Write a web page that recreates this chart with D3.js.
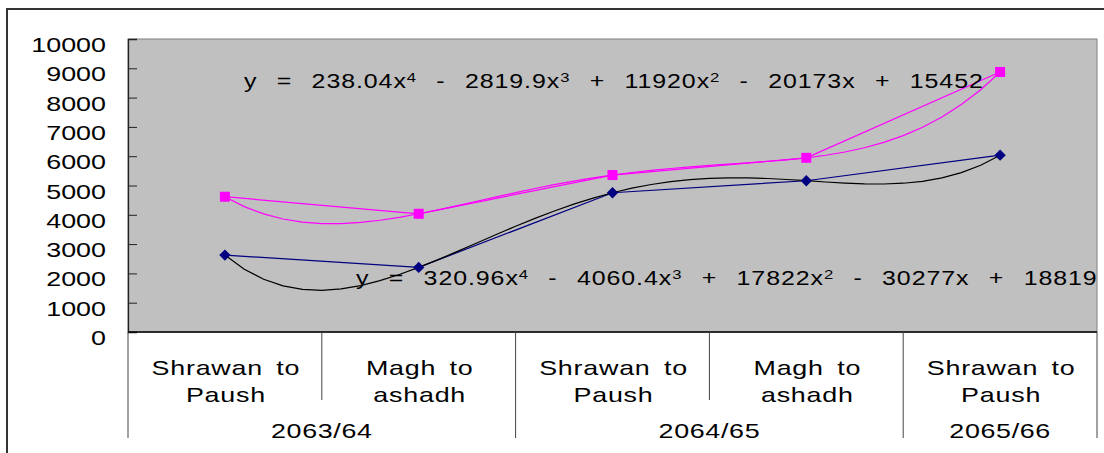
<!DOCTYPE html>
<html>
<head>
<meta charset="utf-8">
<script src="https://cdn.jsdelivr.net/npm/d3@7"></script>
<style>
  html, body { margin: 0; padding: 0; background: #fff; }
  svg { display: block; font-family: "Liberation Sans", Arial, sans-serif; }
</style>
</head>
<body>
<svg id="chart" width="1104" height="453"></svg>
<script>
// Half-year periods (two text lines each) and the fiscal years they belong to
const periods = ["Shrawan to|Paush", "Magh to|ashadh", "Shrawan to|Paush", "Magh to|ashadh", "Shrawan to|Paush"];
const fiscalYears = ["2063/64", "2064/65", "2065/66"];
const periodsPerYear = [2, 2, 1];

// Two series
const seriesPink = [4617, 4035, 5357, 5945, 8875];
const seriesNavy = [2625, 2205, 4753, 5163, 6034];

// 4th-order polynomial trendlines (coefficients of x^4 .. x^0)
const trendPink = [238.04, -2819.9, 11920, -20173, 15452];
const trendNavy = [320.96, -4060.4, 17822, -30277, 18819];

// Value axis ticks
const yTicks = [0, 1000, 2000, 3000, 4000, 5000, 6000, 7000, 8000, 9000, 10000];

const svg = d3.select("#chart");
const plot = { left: 128, top: 39, right: 1097, bottom: 332 };
const SX = 1.28; // horizontal stretch of the label font

const x = d3.scaleBand().domain(d3.range(periods.length)).range([plot.left, plot.right]).padding(0);
const bw = x.bandwidth();
const cx = i => x(i) + bw / 2;
// numeric x (1..n) used by the trendline equations
const xn = d3.scaleLinear().domain([1, periods.length]).range([cx(0), cx(periods.length - 1)]);
const y = d3.scaleLinear().domain([0, 10000]).range([plot.bottom, plot.top]);

// stretched text helper
function label(g, tx, ty, anchor, size) {
  return g.append("text")
    .attr("transform", `translate(${tx},${ty}) scale(${SX},1)`)
    .attr("text-anchor", anchor)
    .attr("font-size", size)
    .attr("fill", "#000");
}

// chart area frame
svg.append("rect")
  .attr("x", 7).attr("y", 9).attr("width", 1120).attr("height", 470)
  .attr("fill", "#fff").attr("stroke", "#333").attr("stroke-width", 2);

// plot area
svg.append("rect")
  .attr("x", plot.left).attr("y", plot.top)
  .attr("width", plot.right - plot.left).attr("height", plot.bottom - plot.top)
  .attr("fill", "#c0c0c0").attr("stroke", "#808080").attr("stroke-width", 1);

// value axis (ticks pointing into the plot)
const yAxis = d3.axisLeft(y).tickValues(yTicks).tickSize(-9).tickFormat("");
const gy = svg.append("g").attr("transform", `translate(${plot.left},0)`).call(yAxis);
gy.select(".domain").attr("stroke", "#222").attr("stroke-width", 1.3);
gy.selectAll(".tick line").attr("stroke", "#222");
yTicks.forEach(v => {
  label(svg, 106, y(v) + 13, "end", 21).text(d3.format("d")(v));
});

// category axis line
svg.append("line")
  .attr("x1", plot.left).attr("x2", plot.right)
  .attr("y1", y(0)).attr("y2", y(0))
  .attr("stroke", "#000").attr("stroke-width", 1.6);

// separators between periods and between fiscal years
const yearBounds = [0];
periodsPerYear.forEach(n => yearBounds.push(yearBounds[yearBounds.length - 1] + n));
const gx = svg.append("g").attr("stroke", "#444").attr("stroke-width", 1);
d3.range(periods.length + 1).forEach(i => {
  const px = i < periods.length ? x(i) : plot.right;
  const isYear = yearBounds.includes(i);
  gx.append("line")
    .attr("x1", px).attr("x2", px)
    .attr("y1", y(0)).attr("y2", isYear ? 438 : 400);
});

// period labels
periods.forEach((p, i) => {
  const t = label(svg, cx(i) + 1, 375, "middle", 21)
    .style("letter-spacing", "0.6px").style("word-spacing", "4px");
  p.split("|").forEach((ln, j) => {
    t.append("tspan").attr("x", 0).attr("y", j * 27).text(ln);
  });
});

// fiscal year labels
fiscalYears.forEach((fy, k) => {
  const a = x(yearBounds[k]);
  const b = yearBounds[k + 1] < periods.length ? x(yearBounds[k + 1]) : plot.right;
  label(svg, (a + b) / 2, 438, "middle", 21)
    .style("letter-spacing", "0.5px")
    .text(fy);
});

// series lines
const line = d3.line().x((d, i) => cx(i)).y(d => y(d));
svg.append("path").datum(seriesPink).attr("d", line)
  .attr("fill", "none").attr("stroke", "#ff00ff").attr("stroke-width", 1.2);
svg.append("path").datum(seriesNavy).attr("d", line)
  .attr("fill", "none").attr("stroke", "#000080").attr("stroke-width", 1.2);

// trendlines
const poly = c => v => c.reduce((acc, k) => acc * v + k, 0);
function trendPath(coefs) {
  const f = poly(coefs);
  const pts = d3.range(0, 41).map(k => 1 + k * (periods.length - 1) / 40);
  return d3.line().x(v => xn(v)).y(v => y(f(v)))(pts);
}
svg.append("path").attr("d", trendPath(trendPink))
  .attr("fill", "none").attr("stroke", "#ff00ff").attr("stroke-width", 1.2);
svg.append("path").attr("d", trendPath(trendNavy))
  .attr("fill", "none").attr("stroke", "#000").attr("stroke-width", 1.2);

// markers
svg.selectAll(".sq").data(seriesPink).enter().append("rect")
  .attr("x", (d, i) => cx(i) - 5).attr("y", d => y(d) - 5)
  .attr("width", 10).attr("height", 10).attr("fill", "#ff00ff");
const diamond = d3.symbol().type(d3.symbolSquare).size(64);
svg.selectAll(".dm").data(seriesNavy).enter().append("path")
  .attr("d", diamond)
  .attr("transform", (d, i) => `translate(${cx(i)},${y(d)}) rotate(45)`)
  .attr("fill", "#000080");

// trendline equations
function equation(coefs, ex, ey) {
  const t = label(svg, ex, ey, "start", 19.5)
    .style("letter-spacing", "0.72px").style("word-spacing", "9px");
  t.append("tspan").text("y = ");
  const deg = coefs.length - 1;
  coefs.forEach((c, i) => {
    const p = deg - i;
    const mag = String(Math.abs(c));
    const lead = i === 0 ? (c < 0 ? "-" : "") : " " + (c < 0 ? "- " : "+ ");
    t.append("tspan").attr("dy", i > 0 && deg - i + 1 >= 2 ? 6 : null)
      .text(lead + mag + (p >= 1 ? "x" : ""));
    if (p >= 2) {
      t.append("tspan").attr("font-size", 13).attr("dy", -6).text(String(p));
    }
  });
}
equation(trendPink, 244, 88);
equation(trendNavy, 356, 285);
</script>
</body>
</html>
